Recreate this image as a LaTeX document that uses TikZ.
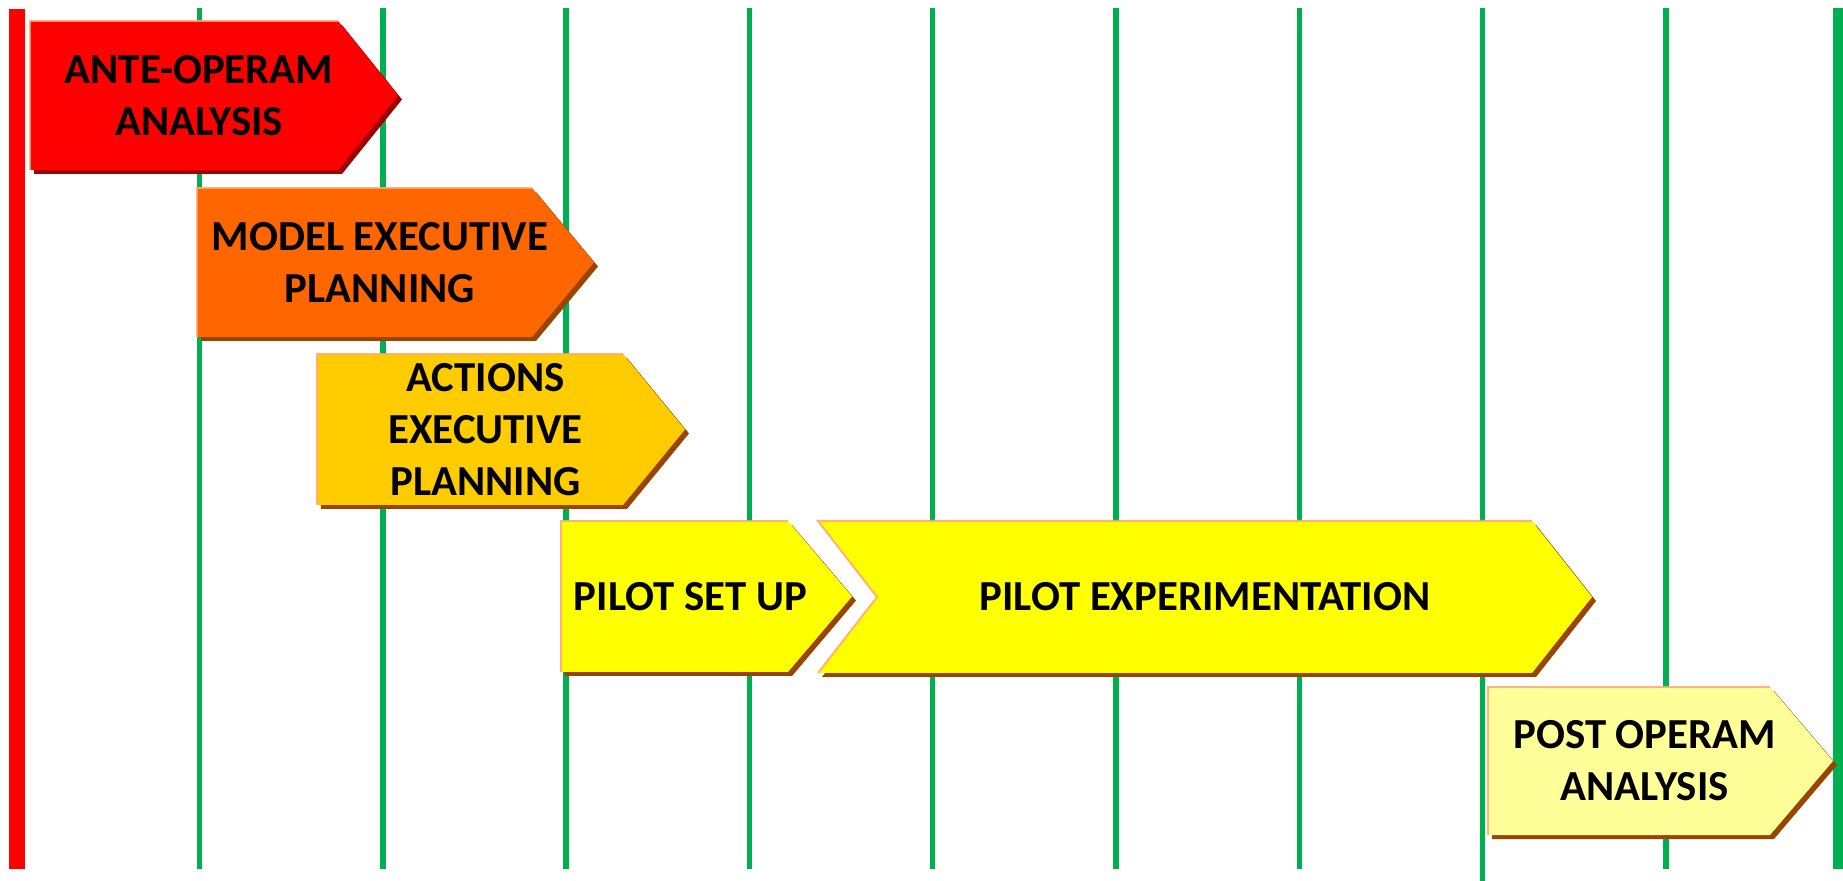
\documentclass[tikz,border=0pt]{standalone}
\usepackage{fontspec}
\setmainfont{Carlito}
\definecolor{gline}{HTML}{00B050}
\definecolor{rline}{HTML}{FF0000}
\definecolor{cRed}{HTML}{FF0000}
\definecolor{cOrange}{HTML}{FF6600}
\definecolor{cGold}{HTML}{FFCC00}
\definecolor{cYellow}{HTML}{FFFF00}
\definecolor{cPale}{HTML}{FFFF99}
\definecolor{shRed}{HTML}{A00000}
\definecolor{shBrown}{HTML}{994400}
\definecolor{hilite}{HTML}{FFA870}
\tikzset{
  gridline/.style={draw=gline, line width=2.75pt},
  startline/.style={draw=rline, line width=8pt},
  lbl/.style={font=\bfseries\fontsize{21.4}{26}\selectfont, align=center, text=black, inner sep=0pt},
  edgehl/.style={draw=hilite, line width=1pt, opacity=0.85},
}
% #1 L, #2 T, #3 R, #4 tip, #5 B, #6 fill, #7 shadow, #8 name, #9 text
\newcommand\pentbox[9]{%
  \fill[#7, shift={(4,4)}] (#1,#2) -- (#3,#2) -- (#4,{(#2+#5)/2}) -- (#3,#5) -- (#1,#5) -- cycle;
  \fill[#6] (#1,#2) -- (#3,#2) -- (#4,{(#2+#5)/2}) -- (#3,#5) -- (#1,#5) -- cycle;
  \draw[edgehl] (#1,#5) -- (#1,#2) -- (#3,#2);
  \node[lbl] (#8) at ({(#1+(#3+#4)/2)/2},{(#2+#5)/2}) {#9};
}
\begin{document}
\begin{tikzpicture}[x=0.5pt, y=-0.5pt]
  \useasboundingbox (0,0) rectangle (1843,881);
  \fill[white] (0,0) rectangle (1843,881);
  % time grid
  \foreach \i/\b in {0/869,1/869,2/869,3/869,4/869,5/869,6/869,7/881,8/869} {
    \coordinate (gt\i) at ({199.5+183.3*\i},8);
    \coordinate (gb\i) at ({199.5+183.3*\i},\b);
    \draw[gridline] (gt\i) -- (gb\i);
  }
  \coordinate (gtr) at (1838.5,8);
  \coordinate (gbr) at (1838.5,869);
  \draw[draw=gline, line width=6pt] (gtr) -- (gbr);
  \coordinate (rt) at (17.3,9);
  \coordinate (rb) at (17.3,869);
  \draw[startline] (rt) -- (rb);
  % phases
  \pentbox{30}{21}{338}{398}{170}{cRed}{shRed}{ante}{ANTE-OPERAM\\ANALYSIS}
  \pentbox{197}{188}{532}{594}{337}{cOrange}{shBrown}{model}{MODEL EXECUTIVE\\PLANNING}
  \pentbox{317}{354}{623}{685}{505}{cGold}{shBrown}{actions}{ACTIONS\\EXECUTIVE\\PLANNING}
  \pentbox{561}{521}{788}{852}{672}{cYellow}{shBrown}{setup}{PILOT SET UP}
  % chevron
  \fill[shBrown, shift={(4,4)}] (818,521) -- (1532,521) -- (1592,597) -- (1532,673) -- (818,673) -- (877,597) -- cycle;
  \fill[cYellow] (818,521) -- (1532,521) -- (1592,597) -- (1532,673) -- (818,673) -- (877,597) -- cycle;
  \draw[edgehl] (818,673) -- (877,597) -- (818,521) -- (1532,521);
  \node[lbl] (exper) at (1205,597) {PILOT EXPERIMENTATION};
  \pentbox{1488}{687}{1770}{1833}{835}{cPale}{shBrown}{post}{POST OPERAM\\ANALYSIS}
\end{tikzpicture}
\end{document}
